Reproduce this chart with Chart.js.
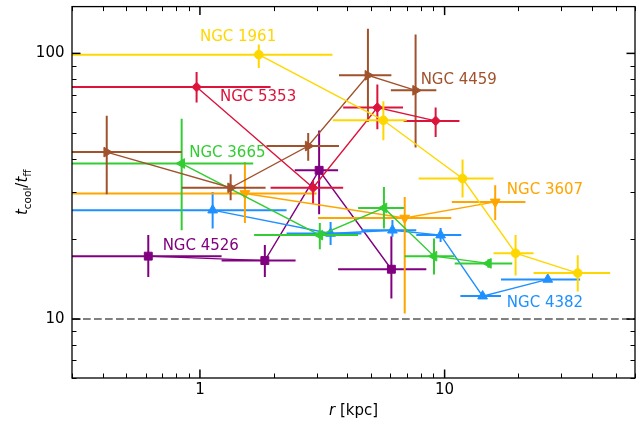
<!DOCTYPE html>
<html><head><meta charset="utf-8">
<script src="https://cdn.jsdelivr.net/npm/chart.js@4/dist/chart.umd.min.js"></script>
<style>html,body{margin:0;padding:0;background:#fff}canvas{display:block}</style>
</head><body>
<canvas id="c" width="643" height="422"></canvas>
<script>
// ---- data (r in kpc, t_cool/t_ff) ----
const ngc1961_r   = [1.74, 5.62, 11.84, 19.5, 35.0];
const ngc1961_rlo = [0, 3.49, 7.83, 15.85, 23.1];
const ngc1961_rhi = [3.48, 7.0, 15.85, 23.1, 47.5];
const ngc1961_t   = [98.9, 56.0, 33.8, 17.7, 14.9];
const ngc1961_tlo = [88.1, 47.1, 28.7, 14.6, 12.7];
const ngc1961_thi = [108, 66.0, 39.9, 20.7, 17.4];

const ngc5353_r   = [0.969, 2.90, 5.31, 9.19];
const ngc5353_rlo = [0, 1.944, 3.85, 6.8];
const ngc5353_rhi = [1.944, 3.85, 6.76, 11.5];
const ngc5353_t   = [74.7, 31.2, 62.5, 55.7];
const ngc5353_tlo = [65.3, 27.3, 51.8, 48.4];
const ngc5353_thi = [85.1, 33.3, 76.3, 62.5];

const ngc4459_r   = [0.416, 1.335, 2.77, 4.86, 7.61];
const ngc4459_rlo = [0, 0.842, 1.87, 3.70, 6.03];
const ngc4459_rhi = [0.842, 1.855, 3.70, 6.06, 9.25];
const ngc4459_t   = [42.5, 31.2, 44.8, 82.7, 72.6];
const ngc4459_tlo = [29.5, 28.0, 39.4, 55.2, 44.2];
const ngc4459_thi = [58.3, 35.1, 50.2, 123.8, 117.9];

const ngc3665_r   = [0.842, 3.09, 5.65, 9.05, 15.1];
const ngc3665_rlo = [0, 1.665, 4.43, 6.86, 11.0];
const ngc3665_rhi = [1.651, 4.43, 6.82, 10.99, 18.9];
const ngc3665_t   = [38.5, 20.7, 26.2, 17.25, 16.2];
const ngc3665_tlo = [21.6, 18.3, 21.9, 14.7, 15.6];
const ngc3665_thi = [56.8, 23.0, 31.4, 20.1, 16.8];

const ngc3607_r   = [1.527, 6.87, 16.1];
const ngc3607_rlo = [0, 3.04, 10.7];
const ngc3607_rhi = [2.995, 10.65, 21.4];
const ngc3607_t   = [29.7, 24.0, 27.6];
const ngc3607_tlo = [23.0, 10.5, 23.6];
const ngc3607_thi = [39.0, 28.8, 31.9];

const ngc4382_r   = [1.127, 3.42, 6.12, 9.63, 14.3, 26.4];
const ngc4382_rlo = [0, 2.26, 4.57, 7.66, 11.6, 17.0];
const ngc4382_rhi = [2.26, 4.57, 7.66, 11.7, 17.0, 35.8];
const ngc4382_t   = [25.7, 21.0, 21.6, 20.7, 12.2, 14.1];
const ngc4382_tlo = [21.9, 19.0, 20.4, 19.5, 11.9, 13.8];
const ngc4382_thi = [30.1, 23.2, 23.6, 22.0, 12.5, 14.4];

const ngc4526_r   = [0.615, 1.842, 3.07, 6.06];
const ngc4526_rlo = [0, 1.226, 2.44, 3.67];
const ngc4526_rhi = [1.226, 2.46, 3.67, 8.42];
const ngc4526_t   = [17.25, 16.6, 36.3, 15.4];
const ngc4526_tlo = [14.4, 14.4, 24.8, 11.96];
const ngc4526_thi = [20.7, 19.0, 51.3, 20.5];

// galaxy names and label anchor positions (data coords)
const galaxyNames = ['NGC 1961','NGC 5353','NGC 4459','NGC 3665','NGC 3607','NGC 4382','NGC 4526'];
const labelR = [1.0, 1.207, 7.98, 0.904, 17.96, 17.96, 0.704];
const labelT = [115, 68.5, 79.2, 42.0, 30.5, 11.5, 18.9];

const xRange = [0.3, 60];
const yRange = [6, 150];
const xTickLabels = [1, 10];
const yTickLabels = [10, 100];
const xMinorTicks = [0.3,0.4,0.5,0.6,0.7,0.8,0.9,2,3,4,5,6,7,8,9,20,30,40,50,60];
const yMinorTicks = [6,7,8,9,20,30,40,50,60,70,80,90];
const threshold = 10;
const xTitleItalic = 'r', xTitleRest = ' [kpc]';

// ---- styling ----
const FONT = '"DejaVu Sans", sans-serif';
const series = [
  {name: galaxyNames[0], r: ngc1961_r, rlo: ngc1961_rlo, rhi: ngc1961_rhi, t: ngc1961_t, tlo: ngc1961_tlo, thi: ngc1961_thi, color: '#FFD700', style: 'circle', rot: 0, rad: 4.3},
  {name: galaxyNames[1], r: ngc5353_r, rlo: ngc5353_rlo, rhi: ngc5353_rhi, t: ngc5353_t, tlo: ngc5353_tlo, thi: ngc5353_thi, color: '#DC143C', style: 'rectRot', rot: 0, rad: 4.8},
  {name: galaxyNames[2], r: ngc4459_r, rlo: ngc4459_rlo, rhi: ngc4459_rhi, t: ngc4459_t, tlo: ngc4459_tlo, thi: ngc4459_thi, color: '#A0522D', style: 'triangle', rot: 90, rad: 5.6},
  {name: galaxyNames[3], r: ngc3665_r, rlo: ngc3665_rlo, rhi: ngc3665_rhi, t: ngc3665_t, tlo: ngc3665_tlo, thi: ngc3665_thi, color: '#32CD32', style: 'triangle', rot: 270, rad: 5.6},
  {name: galaxyNames[4], r: ngc3607_r, rlo: ngc3607_rlo, rhi: ngc3607_rhi, t: ngc3607_t, tlo: ngc3607_tlo, thi: ngc3607_thi, color: '#FFA500', style: 'triangle', rot: 180, rad: 5.6},
  {name: galaxyNames[5], r: ngc4382_r, rlo: ngc4382_rlo, rhi: ngc4382_rhi, t: ngc4382_t, tlo: ngc4382_tlo, thi: ngc4382_thi, color: '#1E90FF', style: 'triangle', rot: 0, rad: 5.6},
  {name: galaxyNames[6], r: ngc4526_r, rlo: ngc4526_rlo, rhi: ngc4526_rhi, t: ngc4526_t, tlo: ngc4526_tlo, thi: ngc4526_thi, color: '#800080', style: 'rect', rot: 0, rad: 5.6},
];

const datasets = series.map(s => ({
  label: s.name,
  data: s.r.map((r, i) => ({x: r, y: s.t[i]})),
  err: {rlo: s.rlo, rhi: s.rhi, tlo: s.tlo, thi: s.thi},
  showLine: true,
  borderColor: s.color,
  backgroundColor: s.color,
  borderWidth: 1.4,
  pointStyle: s.style,
  rotation: s.rot,
  pointRadius: s.rad,
  pointBorderWidth: 1,
  pointBackgroundColor: s.color,
  pointBorderColor: s.color,
  tension: 0
}));

function clipArea(ctx, a) {
  ctx.beginPath();
  ctx.rect(a.left, a.top, a.right - a.left, a.bottom - a.top);
  ctx.clip();
}

const refLinePlugin = {
  id: 'refLine',
  beforeDatasetsDraw(chart) {
    const {ctx, chartArea: a, scales: {y}} = chart;
    const py = y.getPixelForValue(threshold);
    ctx.save();
    ctx.strokeStyle = '#808080';
    ctx.lineWidth = 2;
    ctx.setLineDash([7.7, 3.3]);
    ctx.beginPath();
    ctx.moveTo(a.left, py);
    ctx.lineTo(a.right, py);
    ctx.stroke();
    ctx.restore();
  }
};

const errPlugin = {
  id: 'errbars',
  beforeDatasetDraw(chart, args) {
    const ds = chart.data.datasets[args.index];
    if (!ds.err) return;
    const {ctx, chartArea: a, scales: {x, y}} = chart;
    ctx.save();
    clipArea(ctx, a);
    ctx.strokeStyle = ds.borderColor;
    ctx.lineWidth = 2;
    ds.data.forEach((p, i) => {
      const px = x.getPixelForValue(p.x), py = y.getPixelForValue(p.y);
      const lo = ds.err.rlo[i];
      const x0 = lo > 0 ? x.getPixelForValue(lo) : a.left - 5;
      const x1 = x.getPixelForValue(ds.err.rhi[i]);
      const y0 = y.getPixelForValue(ds.err.tlo[i]);
      const y1 = y.getPixelForValue(ds.err.thi[i]);
      ctx.beginPath();
      ctx.moveTo(x0, py); ctx.lineTo(x1, py);
      ctx.moveTo(px, y0); ctx.lineTo(px, y1);
      ctx.stroke();
    });
    ctx.restore();
  }
};

const labelPlugin = {
  id: 'labels',
  afterDatasetsDraw(chart) {
    const {ctx, scales: {x, y}} = chart;
    ctx.save();
    ctx.font = '15px ' + FONT;
    ctx.textAlign = 'left';
    ctx.textBaseline = 'middle';
    series.forEach((s, i) => {
      ctx.fillStyle = s.color;
      ctx.fillText(galaxyNames[i], x.getPixelForValue(labelR[i]), y.getPixelForValue(labelT[i]));
    });
    ctx.restore();
  }
};

const framePlugin = {
  id: 'frame',
  afterDraw(chart) {
    const {ctx, chartArea: a, scales: {x, y}} = chart;
    ctx.save();
    ctx.strokeStyle = '#000';
    const seg = (x0, y0, x1, y1) => { ctx.beginPath(); ctx.moveTo(x0, y0); ctx.lineTo(x1, y1); ctx.stroke(); };
    ctx.lineWidth = 1;
    xMinorTicks.forEach(v => { const p = Math.round(x.getPixelForValue(v)) + 0.5; seg(p, a.bottom, p, a.bottom - 4.5); seg(p, a.top, p, a.top + 4.5); });
    yMinorTicks.forEach(v => { const p = Math.round(y.getPixelForValue(v)) + 0.5; seg(a.left, p, a.left + 4.5, p); seg(a.right, p, a.right - 4.5, p); });
    ctx.lineWidth = 1.5;
    xTickLabels.forEach(v => { const p = x.getPixelForValue(v); seg(p, a.bottom, p, a.bottom - 8.5); seg(p, a.top, p, a.top + 8.5); });
    yTickLabels.forEach(v => { const p = y.getPixelForValue(v); seg(a.left, p, a.left + 8.5, p); seg(a.right, p, a.right - 8.5, p); });
    ctx.lineWidth = 1.3;
    ctx.strokeRect(a.left, a.top, a.right - a.left, a.bottom - a.top);

    // tick labels
    ctx.fillStyle = '#000';
    ctx.font = '15px ' + FONT;
    ctx.textBaseline = 'middle';
    ctx.textAlign = 'center';
    xTickLabels.forEach(v => ctx.fillText(String(v), x.getPixelForValue(v), a.bottom + 12));
    ctx.textAlign = 'right';
    yTickLabels.forEach(v => ctx.fillText(String(v), a.left - 7.5, y.getPixelForValue(v)));

    // x title: r [kpc]
    const f1 = 'italic 15px ' + FONT, f2 = '15px ' + FONT;
    ctx.font = f1; const w1 = ctx.measureText(xTitleItalic).width;
    ctx.font = f2; const w2 = ctx.measureText(xTitleRest).width;
    const cx = (a.left + a.right) / 2;
    const sx = cx - (w1 + w2) / 2;
    ctx.textAlign = 'left';
    ctx.font = f1; ctx.fillText(xTitleItalic, sx, a.bottom + 33);
    ctx.font = f2; ctx.fillText(xTitleRest, sx + w1, a.bottom + 33);

    // y title: t_cool / t_ff
    const parts = [
      {t: 't', f: 'italic 15px ' + FONT, dy: 0},
      {t: 'cool', f: '10.5px ' + FONT, dy: 3.5},
      {t: '/', f: '15px ' + FONT, dy: 0},
      {t: 't', f: 'italic 15px ' + FONT, dy: 0},
      {t: 'ff', f: '10.5px ' + FONT, dy: 3.5},
    ];
    let tw = 0;
    parts.forEach(p => { ctx.font = p.f; p.w = ctx.measureText(p.t).width; tw += p.w; });
    ctx.translate(27, (a.top + a.bottom) / 2);
    ctx.rotate(-Math.PI / 2);
    ctx.textBaseline = 'alphabetic';
    let px = -tw / 2;
    parts.forEach(p => { ctx.font = p.f; ctx.fillText(p.t, px, p.dy); px += p.w; });
    ctx.restore();
  }
};

new Chart(document.getElementById('c'), {
  type: 'scatter',
  data: {datasets},
  options: {
    responsive: false,
    animation: false,
    devicePixelRatio: 1,
    layout: {padding: {left: 0, right: 8, top: 5.5, bottom: 0}},
    plugins: {legend: {display: false}, tooltip: {enabled: false}},
    scales: {
      x: {
        type: 'logarithmic', position: 'bottom', min: xRange[0], max: xRange[1],
        grid: {display: false, drawTicks: false},
        border: {display: false},
        ticks: {display: false},
        afterFit: s => { s.height = 44; s.paddingLeft = 0; s.paddingRight = 0; s.paddingTop = 0; s.paddingBottom = 0; }
      },
      y: {
        type: 'logarithmic', position: 'left', min: yRange[0], max: yRange[1],
        grid: {display: false, drawTicks: false},
        border: {display: false},
        ticks: {display: false},
        afterFit: s => { s.width = 72; s.paddingLeft = 0; s.paddingRight = 0; s.paddingTop = 0; s.paddingBottom = 0; }
      }
    }
  },
  plugins: [refLinePlugin, errPlugin, labelPlugin, framePlugin]
});
</script>
</body></html>
